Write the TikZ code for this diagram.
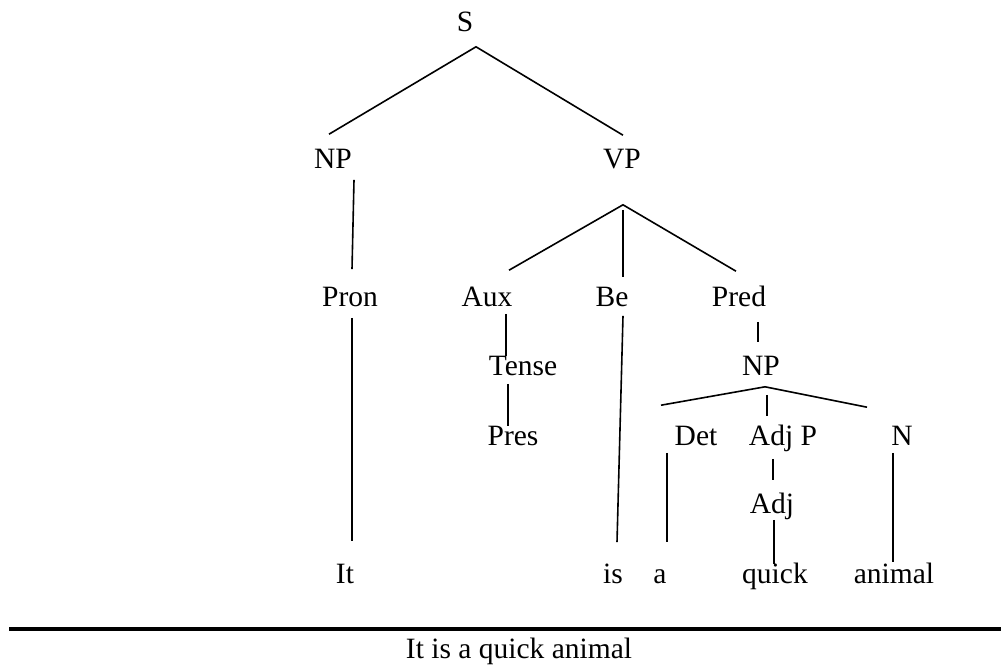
\documentclass[tikz,border=0pt]{standalone}
\usepackage{fontspec}
\setmainfont{Liberation Serif}
\usepackage{tikz}

\begin{document}
\begin{tikzpicture}[x=1pt,y=-1pt,line width=1.6pt]
\tikzstyle{cat}=[inner sep=0pt, anchor=base, text height=20pt, text depth=0pt, font=\fontsize{29.5}{34}\selectfont]
\useasboundingbox (0,0) rectangle (1001,665);

\node[cat] (S) at (465,31) {S};
\node[cat] (NP) at (333,168) {NP};
\node[cat] (VP) at (622,168) {VP};
\node[cat] (Pron) at (350,306) {Pron};
\node[cat] (Aux) at (487,306) {Aux};
\node[cat] (Be) at (612,306) {Be};
\node[cat] (Pred) at (739,306) {Pred};
\node[cat] (Tense) at (523,375) {Tense};
\node[cat] (NPb) at (761,375) {NP};
\node[cat] (Pres) at (513,445) {Pres};
\node[cat] (Det) at (696,445) {Det};
\node[cat] (AdjP) at (783,445) {Adj P};
\node[cat] (N) at (902,445) {N};
\node[cat] (Adj) at (772,513) {Adj};
\node[cat] (It) at (345,583) {It};
\node[cat] (is) at (613,583) {is};
\node[cat] (a) at (660,583) {a};
\node[cat] (quick) at (775,583) {quick};
\node[cat] (animal) at (894,583) {animal};
\node[cat] (sent) at (519,658) {It is a quick animal};

% S and its daughters
\draw ([shift={(-4,-13)}]NP.north) -- ([shift={(11,15)}]S.south) -- ([shift={(1,-12)}]VP.north);
\draw ([shift={(21,11)}]NP.south) -- ([shift={(2,-16)}]Pron.north);
\draw ([shift={(2,11)}]Pron.south) -- ([shift={(7,-21)}]It.north);

% VP
\draw ([shift={(22,-15)}]Aux.north) -- ([shift={(1,36)}]VP.south) -- ([shift={(-3,-14)}]Pred.north);
\draw ([shift={(1,41)}]VP.south) -- ([shift={(11,-8)}]Be.north);
\draw ([shift={(19,7)}]Aux.south) -- ([shift={(-17,2)}]Tense.north);
\draw ([shift={(-15,8)}]Tense.south) -- ([shift={(-5,2)}]Pres.north);
\draw ([shift={(11,9)}]Be.south) -- ([shift={(4,-20)}]is.north);
\draw ([shift={(19,15)}]Pred.south) -- ([shift={(-3,-12)}]NPb.north);

% lower NP
\draw ([shift={(-35,-19)}]Det.north) -- ([shift={(4,11)}]NPb.south) -- ([shift={(-35,-17)}]N.north);
\draw ([shift={(6,19)}]NPb.south) -- ([shift={(-16,-8)}]AdjP.north);
\draw ([shift={(-29,7)}]Det.south) -- ([shift={(7,-20)}]a.north);
\draw ([shift={(-10,13)}]AdjP.south) -- ([shift={(1,-12)}]Adj.north);
\draw ([shift={(2,6)}]Adj.south) -- ([shift={(-1,2)}]quick.north);
\draw ([shift={(-9,7)}]N.south) -- ([shift={(-1,0)}]animal.north);

% rule above the sentence
\draw[line width=4pt] (9,629) -- (1001,629);
\end{tikzpicture}
\end{document}
